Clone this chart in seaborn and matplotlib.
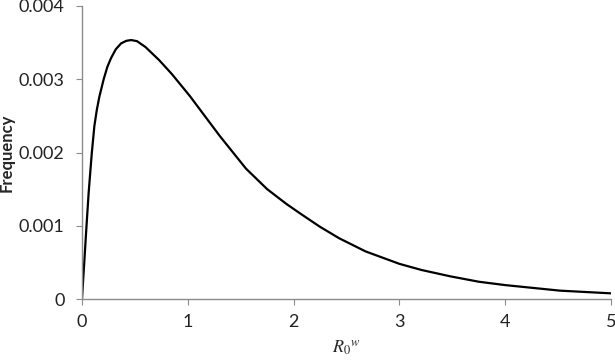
import numpy as np
import pandas as pd
import matplotlib
matplotlib.use('Agg')
import matplotlib.pyplot as plt
import seaborn as sns
from matplotlib.ticker import FuncFormatter

# values
r0w = [0, 0.025, 0.042, 0.063, 0.092, 0.117, 0.14, 0.164, 0.205, 0.24,
       0.275, 0.32, 0.37, 0.42, 0.465, 0.52, 0.6, 0.73, 0.85, 1.02, 1.16,
       1.30, 1.55, 1.75, 1.93, 2.06, 2.245, 2.43, 2.68, 3.0, 3.21, 3.48,
       3.75, 4.0, 4.52, 5.0]
freq = [0, 0.00058, 0.00098, 0.00145, 0.00198, 0.00236, 0.00258, 0.00276,
        0.0030, 0.00317, 0.00329, 0.00341, 0.00349, 0.003525, 0.003535,
        0.00352, 0.00344, 0.00326, 0.00307, 0.00277, 0.0025, 0.00223,
        0.00178, 0.0015, 0.0013, 0.00117, 0.00099, 0.00083, 0.00065,
        0.00048, 0.000396, 0.00031, 0.000236, 0.00019, 0.000114, 0.0000775]
x_ticks = [0, 1, 2, 3, 4, 5]
y_ticks = [0, 0.001, 0.002, 0.003, 0.004]

df = pd.DataFrame({'r0w': r0w, 'freq': freq})

sns.set_style('white')
plt.rcParams['font.family'] = ['Lato', 'DejaVu Sans']
plt.rcParams['mathtext.fontset'] = 'stix'

fig = plt.figure(figsize=(6.15, 3.61), dpi=100)
ax = fig.add_axes([0.1333, 0.1717, 0.8602, 0.8117])

sns.lineplot(data=df, x='r0w', y='freq', color='black', linewidth=1.6, ax=ax)
for ln in ax.lines:
    ln.set_solid_joinstyle('round')

ax.set_xlim(0, 5)
ax.set_ylim(0, 0.004)
ax.set_xticks(x_ticks)
ax.set_yticks(y_ticks)
ax.yaxis.set_major_formatter(FuncFormatter(lambda v, p: '0' if v == 0 else f'{v:.3f}'))

for s in ['top', 'right']:
    ax.spines[s].set_visible(False)
for s in ['left', 'bottom']:
    ax.spines[s].set_color('#8c8c8c')
    ax.spines[s].set_linewidth(1.0)

ax.tick_params(axis='both', which='major', direction='out', length=4.5, width=0.8,
               color='#8c8c8c', labelsize=13, labelcolor='#222222',
               left=True, bottom=True)
ax.tick_params(axis='y', pad=8)
ax.tick_params(axis='x', pad=6)

ax.set_ylabel('Frequency', fontsize=12, fontweight='bold')
ax.yaxis.set_label_coords(-0.127, 0.5)
ax.set_xlabel(r'$\mathit{R}_0{}^{\mathit{w}}$', fontsize=13)
ax.xaxis.set_label_coords(0.5, -0.137)

plt.savefig('out.png', dpi=100)
